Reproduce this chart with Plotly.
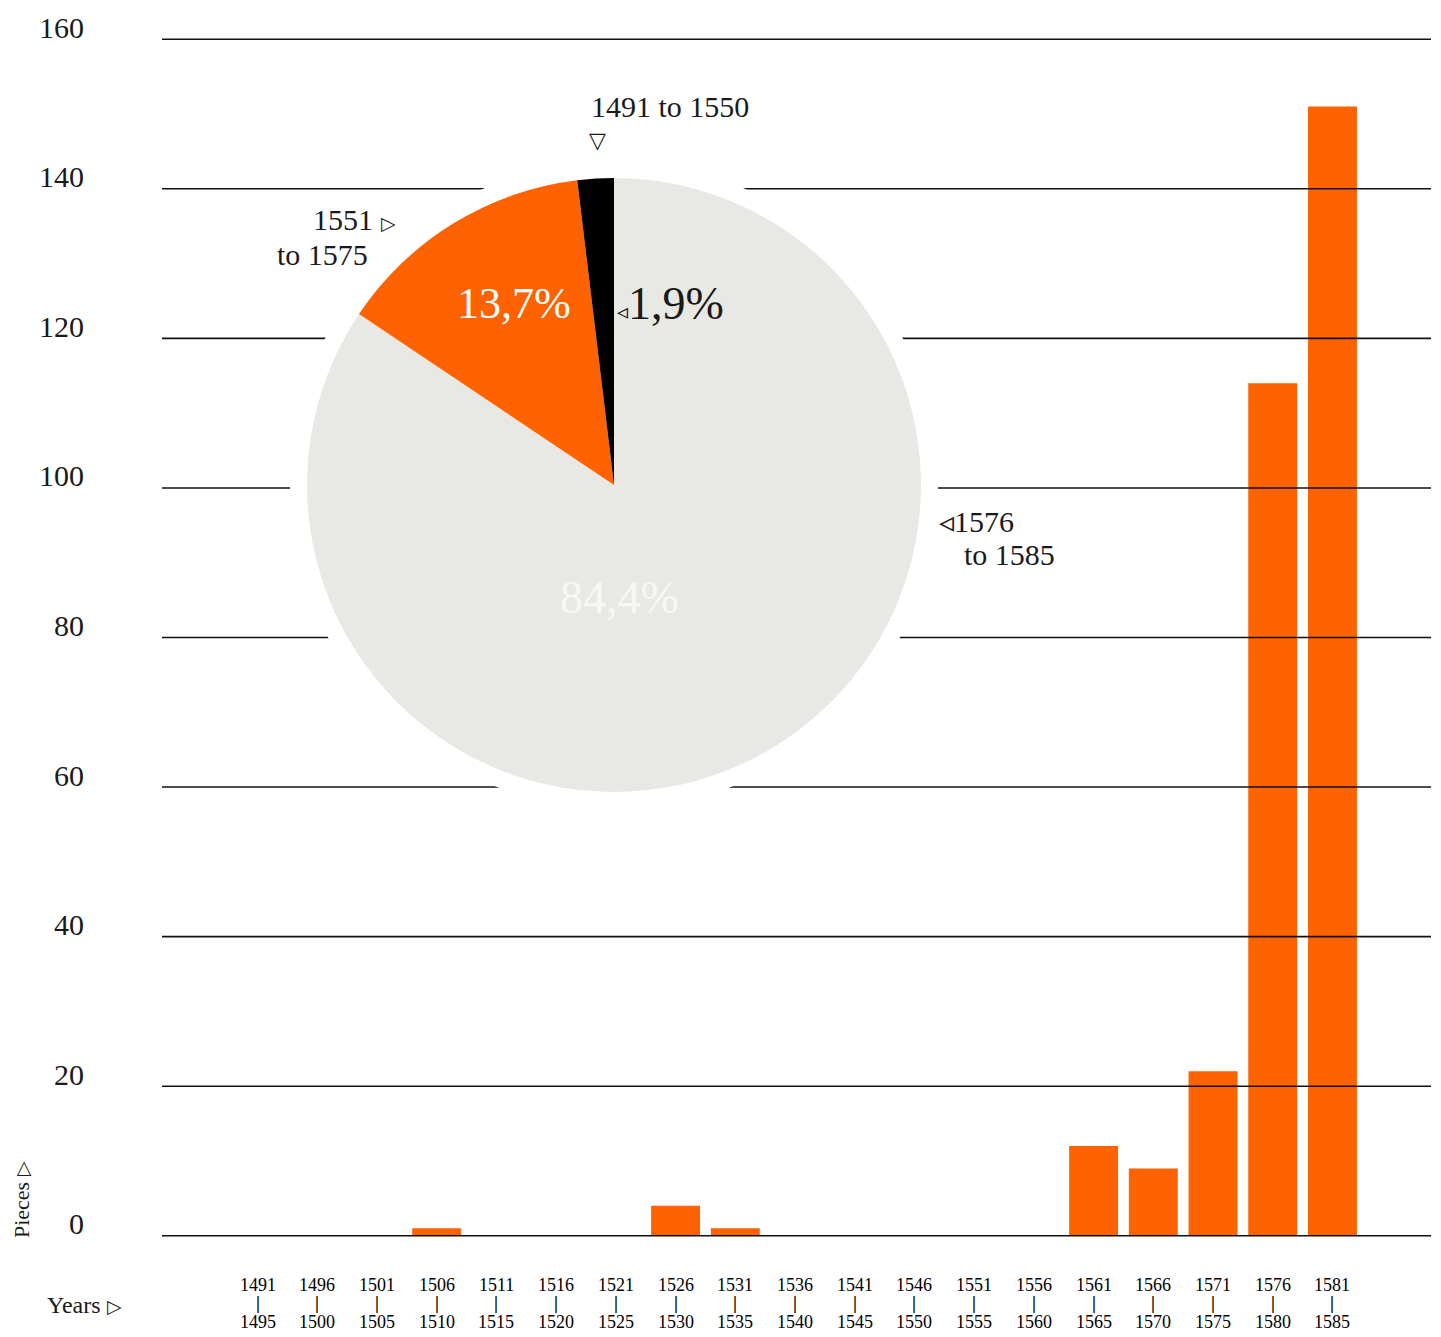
import plotly.graph_objects as go

# five-year periods and number of pieces per period
period_start = ['1491', '1496', '1501', '1506', '1511', '1516', '1521', '1526', '1531', '1536',
                '1541', '1546', '1551', '1556', '1561', '1566', '1571', '1576', '1581']
period_end = ['1495', '1500', '1505', '1510', '1515', '1520', '1525', '1530', '1535', '1540',
              '1545', '1550', '1555', '1560', '1565', '1570', '1575', '1580', '1585']
pieces = [0, 0, 0, 1, 0, 0, 0, 4, 1, 0, 0, 0, 0, 0, 12, 9, 22, 114, 151]

y_ticks = [0, 20, 40, 60, 80, 100, 120, 140, 160]

# pie groups (by first year of period)
group_names = ['1491 to 1550', '1551 to 1575', '1576 to 1585']
group_values = [
    sum(p for s, p in zip(period_start, pieces) if int(s) <= 1546),
    sum(p for s, p in zip(period_start, pieces) if 1551 <= int(s) <= 1571),
    sum(p for s, p in zip(period_start, pieces) if int(s) >= 1576),
]
group_colors = ['#000000', '#FF6200', '#E8E9E4']

ORANGE = '#FF6200'
FONT = 'Liberation Serif'
INK = '#1a1a1a'

total = sum(group_values)
pct = [f'{v / total * 100:.1f}'.replace('.', ',') + '%' for v in group_values]

fig = go.Figure()

fig.add_trace(go.Bar(
    x=period_start, y=pieces, marker_color=ORANGE, width=0.82,
    marker_line_width=0, hoverinfo='x+y', showlegend=False,
))

# gridlines run over the bars, so draw them as a line trace on an overlaid [0, 1] x axis
grid_x, grid_y = [], []
for t in y_ticks:
    grid_x += [0, 1, None]
    grid_y += [t, t, None]
fig.add_trace(go.Scatter(
    x=grid_x, y=grid_y, xaxis='x2', mode='lines', line=dict(color='#111111', width=1.6),
    hoverinfo='skip', showlegend=False, cliponaxis=False,
))

# white backdrop that cuts the gridlines around the pie
fig.add_trace(go.Pie(
    values=[1], marker=dict(colors=['white'], line=dict(width=0)),
    domain=dict(x=[0.1009, 0.6115], y=[0.3572, 0.8968]),
    textinfo='none', hoverinfo='skip', showlegend=False, sort=False,
))

# clockwise from 12 o'clock with the latest group first, so the oldest ends just left of the top
fig.add_trace(go.Pie(
    labels=group_names[::-1], values=group_values[::-1],
    marker=dict(colors=group_colors[::-1], line=dict(width=0)),
    domain=dict(x=[0.1143, 0.5981], y=[0.3714, 0.8826]),
    sort=False, direction='clockwise', rotation=0,
    textinfo='none', showlegend=False,
))

# the page adds an 8px body margin, so the figure is 8px smaller on the left/top
fig.update_layout(
    width=1433, height=1329,
    margin=dict(l=154, r=10, t=29, b=99),
    paper_bgcolor='white', plot_bgcolor='white',
    font=dict(family=FONT, color=INK),
    xaxis=dict(type='category', range=[-1.6, 19.65], showgrid=False, showticklabels=False,
               showline=False, zeroline=False, ticks='', automargin=False),
    xaxis2=dict(overlaying='x', range=[0, 1], visible=False, automargin=False),
    yaxis=dict(range=[-0.3, 160.3], tickvals=y_ticks, showgrid=False, zeroline=False,
               tickfont=dict(size=30, family=FONT, color=INK), ticklabelstandoff=77,
               ticklabelshift=-12, showline=False, ticks='', automargin=False),
)

# x tick labels: start year, bar, end year
for i, (s, e) in enumerate(zip(period_start, period_end)):
    for txt, shift in [(s, -47), ('<b>|</b>', -65), (e, -84)]:
        fig.add_annotation(x=i, xref='x', y=0, yref='paper', yshift=shift, text=txt,
                           showarrow=False, font=dict(size=18, family=FONT, color='#000000'),
                           yanchor='middle')


def note(text, x, y, size=30, color=INK, xanchor='center'):
    fig.add_annotation(x=x, y=y, xref='paper', yref='paper', text=text, showarrow=False,
                       font=dict(size=size, family=FONT, color=color),
                       xanchor=xanchor, yanchor='middle')


tri = lambda c: f"<span style='font-size:19px'>{c}</span>"

note('Years ' + tri('▷'), -0.0922, -0.0557, size=24, xanchor='left')
fig.add_annotation(x=-0.1111, y=0.0316, xref='paper', yref='paper', text='Pieces ' + tri('▷'),
                   textangle=-90, showarrow=False, xanchor='center', yanchor='middle',
                   font=dict(size=22, family=FONT, color=INK))

# pie labels
note(group_names[0], 0.4003, 0.9425)
note('▽', 0.3428, 0.9142, size=22)
note('1551 ' + tri('▷'), 0.186, 0.8477, xanchor='right')
note('to 1575', 0.1639, 0.8193, xanchor='right')
note('◃' + '1576', 0.6107, 0.597, xanchor='left')
note('to 1585', 0.6304, 0.5687, xanchor='left')

note(pct[1], 0.2774, 0.7777, size=44, color='white')
note("<span style='font-size:22px'>◃</span>" + pct[0], 0.357, 0.7777, size=46, xanchor='left')
note(pct[2], 0.3609, 0.5329, size=46, color='rgba(255,255,255,0.7)')

fig.write_html('out.html')
